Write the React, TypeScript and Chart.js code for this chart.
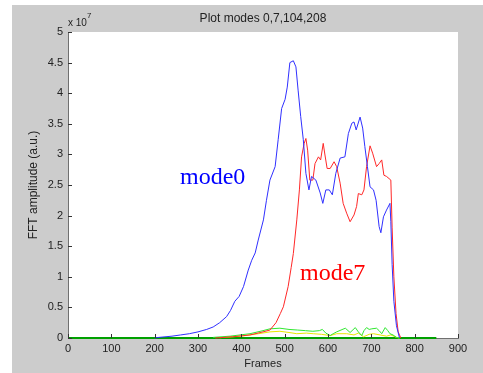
import React, { useEffect, useRef } from "react";
import { Chart, registerables } from "chart.js";

Chart.register(...registerables);

// Values are in units of 1e7 (axis shows "x 10^7")
const xTickValues = [0, 100, 200, 300, 400, 500, 600, 700, 800, 900];
const yTickValues = [0, 0.5, 1, 1.5, 2, 2.5, 3, 3.5, 4, 4.5, 5];

const mode0Frames = [200, 210, 240, 260, 280, 300, 320, 335, 350, 366, 375, 385, 395, 405, 416, 424, 432, 439, 451, 458, 466, 478, 485, 493, 501, 506, 512, 520, 526, 531, 537, 543, 549, 556, 562, 572, 582, 588, 595, 603, 610, 618, 628, 639, 647, 655, 660, 665, 674, 680, 685, 691, 697, 705, 711, 718, 722, 728, 735, 743, 745, 748, 752, 758, 765];
const mode0Values = [0, 0.01, 0.03, 0.05, 0.07, 0.1, 0.14, 0.18, 0.25, 0.35, 0.45, 0.6, 0.68, 0.84, 1.11, 1.27, 1.39, 1.6, 1.93, 2.25, 2.58, 2.8, 3.24, 3.75, 3.9, 4.1, 4.5, 4.53, 4.43, 4.05, 3.62, 3.24, 2.69, 2.42, 2.64, 2.58, 2.37, 2.2, 2.42, 2.42, 2.34, 2.69, 2.94, 2.96, 3.34, 3.51, 3.53, 3.4, 3.61, 3.43, 3.13, 2.8, 2.47, 2.42, 2.25, 1.82, 1.72, 1.98, 2.09, 2.2, 1.9, 1.2, 0.6, 0.2, 0];

const mode7Frames = [340, 380, 420, 450, 466, 480, 490, 497, 508, 515, 520, 528, 534, 539, 545, 549, 553, 558, 565, 570, 578, 583, 589, 593, 598, 605, 614, 620, 628, 635, 643, 651, 660, 666, 670, 678, 683, 689, 697, 703, 712, 718, 724, 729, 735, 745, 748, 752, 757, 762, 768];
const mode7Values = [0, 0.02, 0.05, 0.1, 0.13, 0.25, 0.4, 0.51, 0.84, 1.15, 1.38, 1.93, 2.42, 2.96, 3.18, 3.26, 3.07, 2.58, 2.58, 2.85, 2.96, 2.91, 3.18, 2.99, 2.77, 2.77, 2.88, 2.8, 2.53, 2.2, 2.04, 1.9, 2.01, 2.15, 2.36, 2.34, 2.42, 2.8, 3.14, 3.02, 2.8, 2.85, 2.91, 2.66, 2.64, 2.58, 1.8, 1.0, 0.4, 0.1, 0];

const mode104Frames = [335, 374, 420, 450, 466, 489, 510, 530, 548, 565, 580, 587, 595, 605, 612, 620, 630, 640, 651, 663, 670, 678, 683, 689, 695, 701, 712, 718, 724, 732, 738, 743, 750, 758, 765];
const mode104Values = [0.01, 0.03, 0.07, 0.12, 0.15, 0.16, 0.14, 0.13, 0.12, 0.11, 0.12, 0.14, 0.08, 0.04, 0.07, 0.1, 0.13, 0.16, 0.09, 0.17, 0.1, 0.04, 0.12, 0.17, 0.14, 0.15, 0.16, 0.12, 0.07, 0.17, 0.12, 0.07, 0.05, 0.01, 0];

const mode208Frames = [350, 400, 440, 466, 489, 510, 528, 550, 566, 585, 605, 620, 643, 660, 670, 682, 695, 705, 720, 735, 745, 758, 765];
const mode208Values = [0.005, 0.03, 0.07, 0.1, 0.11, 0.09, 0.07, 0.08, 0.07, 0.06, 0.04, 0.07, 0.07, 0.05, 0.08, 0.02, 0.06, 0.07, 0.05, 0.03, 0.05, 0.01, 0];

const baselineFrames = [0, 850];
const baselineValues = [0, 0];

const toPoints = (xs: number[], ys: number[]) => xs.map((x, i) => ({ x, y: ys[i] }));

const SANS = "'Liberation Sans', Arial, sans-serif";
const SERIF = "'Liberation Serif', 'Times New Roman', serif";

const decor = {
  id: "decor",
  beforeDraw(chart: any) {
    const { ctx, chartArea: a, width, height } = chart;
    ctx.save();
    ctx.fillStyle = "#ffffff";
    ctx.fillRect(0, 0, width, height);
    ctx.fillStyle = "#cccccc";
    ctx.fillRect(12, 5, width - 12, height - 5);
    ctx.fillStyle = "#ffffff";
    ctx.fillRect(a.left, a.top, a.right - a.left, a.bottom - a.top);
    ctx.restore();
  },
  afterDraw(chart: any) {
    const { ctx, chartArea: a } = chart;
    const xs = chart.scales.x;
    const ys = chart.scales.y;
    ctx.save();
    // inward tick marks
    ctx.strokeStyle = "#333333";
    ctx.lineWidth = 1;
    ctx.beginPath();
    xs.ticks.forEach((t: any) => {
      const px = Math.round(xs.getPixelForValue(t.value)) + 0.5;
      ctx.moveTo(px, a.bottom);
      ctx.lineTo(px, a.bottom - 4);
    });
    ys.ticks.forEach((t: any) => {
      const py = Math.round(ys.getPixelForValue(t.value)) + 0.5;
      ctx.moveTo(a.left, py);
      ctx.lineTo(a.left + 4, py);
    });
    ctx.stroke();

    ctx.fillStyle = "#222222";
    // title
    ctx.font = `12px ${SANS}`;
    ctx.textAlign = "center";
    ctx.textBaseline = "middle";
    ctx.fillText("Plot modes 0,7,104,208", (a.left + a.right) / 2, 19);
    // x title
    ctx.font = `11px ${SANS}`;
    ctx.fillText("Frames", (a.left + a.right) / 2, 364);
    // y title
    ctx.save();
    ctx.translate(34, (a.top + a.bottom) / 2);
    ctx.rotate(-Math.PI / 2);
    ctx.font = `12px ${SANS}`;
    ctx.fillText("FFT amplitude (a.u.)", 0, 0);
    ctx.restore();
    // exponent
    ctx.textAlign = "left";
    ctx.font = `10px ${SANS}`;
    ctx.fillText("x 10", a.left, 23);
    ctx.font = `8px ${SANS}`;
    ctx.fillText("7", a.left + 19, 16);
    // mode labels
    ctx.textBaseline = "alphabetic";
    ctx.font = `24px ${SERIF}`;
    ctx.fillStyle = "#0000ff";
    ctx.fillText("mode0", 180, 184);
    ctx.fillStyle = "#ff0000";
    ctx.fillText("mode7", 300, 280);
    ctx.restore();
  },
};

export default function App() {
  const ref = useRef<HTMLCanvasElement | null>(null);
  useEffect(() => {
    document.body.style.margin = "0";
    if (!ref.current) return;
    const lineDs = (label: string, xs: number[], ys: number[], color: string, width = 1) => ({
      label,
      data: toPoints(xs, ys),
      borderColor: color,
      backgroundColor: color,
      borderWidth: width,
      pointRadius: 0,
      tension: 0,
      fill: false,
      clip: 3,
    });
    const chart = new Chart(ref.current, {
      type: "line",
      data: {
        datasets: [
          lineDs("mode0", mode0Frames, mode0Values, "#3030ff"),
          lineDs("mode7", mode7Frames, mode7Values, "#ff2828"),
          lineDs("mode104", mode104Frames, mode104Values, "#30e830"),
          lineDs("mode208", mode208Frames, mode208Values, "#e8e800"),
          lineDs("baseline", baselineFrames, baselineValues, "#00a000", 2),
        ],
      },
      options: {
        responsive: false,
        animation: false,
        events: [],
        layout: { padding: { left: 0, top: 32, right: 25, bottom: 0 } },
        plugins: { legend: { display: false }, title: { display: false }, tooltip: { enabled: false } },
        scales: {
          x: {
            type: "linear",
            min: 0,
            max: 900,
            afterBuildTicks: (s: any) => {
              s.ticks = xTickValues.map((v) => ({ value: v }));
            },
            afterFit: (s: any) => {
              s.height = 35;
            },
            grid: { display: false, drawTicks: false },
            border: { display: true, color: "#707070", width: 1 },
            ticks: {
              padding: 4,
              color: "#222222",
              font: { family: SANS, size: 11 },
              maxRotation: 0,
              autoSkip: false,
              callback: (v: any) => String(v),
            },
          },
          y: {
            type: "linear",
            min: 0,
            max: 5,
            afterBuildTicks: (s: any) => {
              s.ticks = yTickValues.map((v) => ({ value: v }));
            },
            afterFit: (s: any) => {
              s.width = 68;
            },
            grid: { display: false, drawTicks: false },
            border: { display: true, color: "#707070", width: 1 },
            ticks: {
              padding: 5,
              color: "#222222",
              font: { family: SANS, size: 11 },
              autoSkip: false,
              callback: (v: any) => String(v),
            },
          },
        },
      },
      plugins: [decor],
    } as any);
    return () => chart.destroy();
  }, []);
  return <canvas ref={ref} width={483} height={373} style={{ display: "block" }} />;
}
